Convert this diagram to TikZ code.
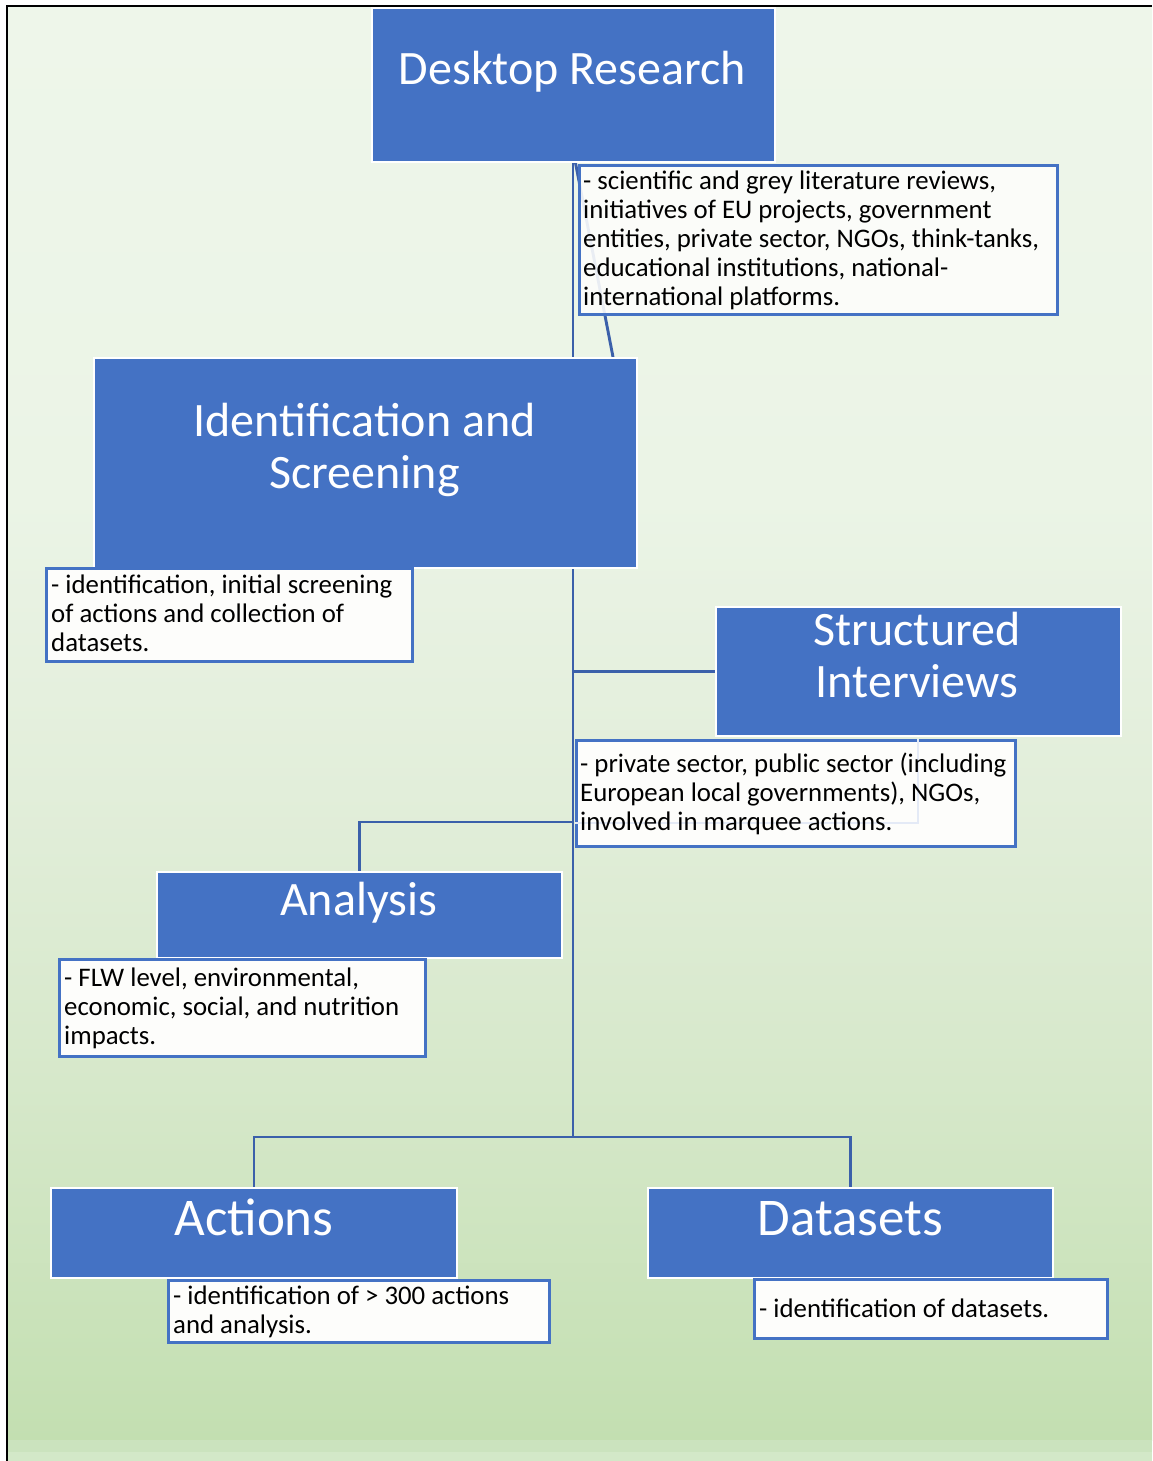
\documentclass[tikz,border=0pt]{standalone}
\usepackage{fontspec}
\setmainfont{Carlito}
\definecolor{boxblue}{HTML}{4472C4}
\definecolor{linkblue}{HTML}{3B60AA}
\definecolor{descfill}{HTML}{FDFDFB}
\definecolor{gA}{HTML}{EEF6EA}
\definecolor{gB}{HTML}{EBF4E6}
\definecolor{gC}{HTML}{E2EEDA}
\definecolor{gD}{HTML}{D6E8CA}
\definecolor{gE}{HTML}{C3DFB1}
\definecolor{gF}{HTML}{CBE3BE}
\definecolor{gG}{HTML}{D3E8C8}
\definecolor{ghost}{HTML}{E4EAF6}
\pgfdeclareverticalshading{bgshade}{100bp}{color(0bp)=(gE); color(25bp)=(gE); color(37.4bp)=(gD); color(47.6bp)=(gC); color(57.9bp)=(gB); color(75bp)=(gA); color(100bp)=(gA)}
\tikzset{
  bluebox/.style={draw=white, line width=2pt, fill=boxblue, inner sep=0pt, anchor=north west},
  descbox/.style={draw=boxblue, line width=2.5pt, fill=descfill, inner sep=0pt, anchor=north west},
  bigtext/.style={text=white, font=\fontsize{48}{52}\selectfont, align=center, anchor=north, inner sep=0pt},
  hugetext/.style={text=white, font=\fontsize{53}{58}\selectfont, align=center, anchor=north, inner sep=0pt},
  smalltext/.style={text=black, font=\fontsize{26.8}{29}\selectfont, align=left, anchor=north west, inner sep=0pt},
  link/.style={draw=linkblue, line width=2.9pt},
  frame/.style={draw=black, line width=2.5pt}
}
\begin{document}
\begin{tikzpicture}[x=1pt, y=-1pt]
\useasboundingbox (0,0) rectangle (1152,1461);
% background
\shade[shading=bgshade] (8,7) rectangle (1152,1440);
\fill[gF] (8,1440) rectangle (1152,1452);
\fill[gG] (8,1452) rectangle (1152,1461);
\draw[frame] (7,1461) -- (7,6) -- (1152,6);

% boxes (geometry first, for connectors)
\path
  node[bluebox, minimum width=403pt, minimum height=154pt] (dr) at (371,7) {}
  node[bluebox, minimum width=543pt, minimum height=210pt] (is) at (93,357) {}
  node[bluebox, minimum width=405pt, minimum height=129pt] (si) at (715,606) {}
  node[bluebox, minimum width=405pt, minimum height=86pt] (an) at (156,871) {}
  node[bluebox, minimum width=406pt, minimum height=90pt] (ac) at (50,1187) {}
  node[bluebox, minimum width=405pt, minimum height=90pt] (ds) at (647,1187) {};

\coordinate (j) at (573,1137);
\coordinate (ja) at (573,822);
\coordinate (dg) at (613,357);

% connectors
\draw[link] (dr.south -| j) -- (is.north -| j);
\draw[link] ([xshift=2pt]dr.south) -- (dg);
\draw[link] (is.south -| j) -- (j);
\draw[link] (si.west -| j) -- (si.west);
\draw[link] (ja) -| (an.north);
\draw[link] (ac.north) |- (j) -| (ds.north);

% redraw blue boxes on top
\path
  node[bluebox, minimum width=403pt, minimum height=154pt] at (371,7) {}
  node[bluebox, minimum width=543pt, minimum height=210pt] at (93,357) {}
  node[bluebox, minimum width=405pt, minimum height=129pt] at (715,606) {}
  node[bluebox, minimum width=405pt, minimum height=86pt] at (156,871) {}
  node[bluebox, minimum width=406pt, minimum height=90pt] at (50,1187) {}
  node[bluebox, minimum width=405pt, minimum height=90pt] at (647,1187) {};

% description boxes
\node[descbox, fill opacity=0.9, minimum width=478pt, minimum height=149pt] (d1) at (578,164) {};
\node[descbox, minimum width=366pt, minimum height=93pt] (d2) at (45,567) {};
\node[descbox, minimum width=439pt, minimum height=106pt] (d3) at (575,739) {};
\node[descbox, minimum width=366pt, minimum height=97pt] (d4) at (58,958) {};
\node[descbox, minimum width=381pt, minimum height=62pt] (d5) at (167,1279) {};
\node[descbox, minimum width=353pt, minimum height=59pt] (d6) at (753,1278) {};

% faint ghost outline inside d3
\draw[ghost, line width=1.5pt] (d3.north west -| 918,0) -- (918,823) -- (d3.west |- 918,823);

% titles
\node[bigtext] (drt) at (572.5,48.2) {\strut Desktop Research};
\node[bigtext] (ist) at (364.5,400.2) {\strut Identification and\\Screening};
\node[bigtext] (sit) at (917,609.2) {\strut Structured\\Interviews};
\node[bigtext] (ant) at (358.5,879.2) {\strut Analysis};
\node[hugetext] (act) at (254,1195) {\strut Actions};
\node[hugetext] (dst) at (850.5,1195) {\strut Datasets};

% descriptions
\node[smalltext] (t1) at (583,168.8) {\strut - scientific and grey literature reviews,\\initiatives of EU projects, government\\entities, private sector, NGOs, think-tanks,\\educational institutions, national-\\international platforms.};
\node[smalltext] (t2) at (51,572.8) {\strut - identification, initial screening\\of actions and collection of\\datasets.};
\node[smalltext] (t3) at (580,751.8) {\strut - private sector, public sector (including\\European local governments), NGOs,\\involved in marquee actions.};
\node[smalltext] (t4) at (64,965.8) {\strut - FLW level, environmental,\\economic, social, and nutrition\\impacts.};
\node[smalltext] (t5) at (173,1283.8) {\strut - identification of > 300 actions\\and analysis.};
\node[smalltext] (t6) at (759,1296.8) {\strut - identification of datasets.};
\end{tikzpicture}
\end{document}
